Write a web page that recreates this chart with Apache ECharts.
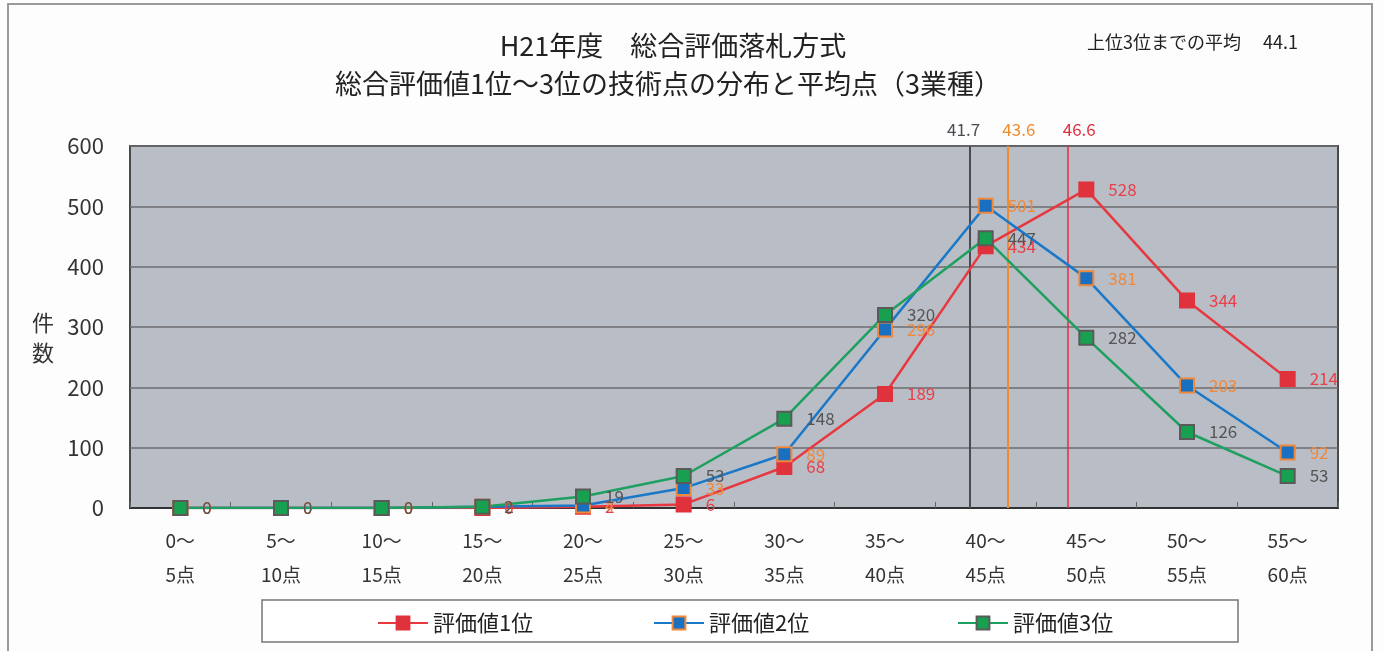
<!DOCTYPE html>
<html>
<head>
<meta charset="utf-8">
<script src="https://cdn.jsdelivr.net/npm/echarts@6/dist/echarts.min.js"></script>
<style>
  html, body { margin: 0; padding: 0; background: #fdfdfd; }
  #chart { width: 1385px; height: 651px; }
</style>
</head>
<body>
<div id="chart"></div>
<script>
// Score bands (x axis categories)
const categories = ['0～\n5点', '5～\n10点', '10～\n15点', '15～\n20点', '20～\n25点', '25～\n30点',
                    '30～\n35点', '35～\n40点', '40～\n45点', '45～\n50点', '50～\n55点', '55～\n60点'];

// Counts per band for the 1st, 2nd and 3rd ranked bidders
const rank1 = [0, 0, 0, 0, 2, 6, 68, 189, 434, 528, 344, 214];
const rank2 = [0, 0, 0, 2, 4, 33, 89, 296, 501, 381, 203, 92];
const rank3 = [0, 0, 0, 2, 19, 53, 148, 320, 447, 282, 126, 53];

// Average technical scores (vertical reference lines)
const avgRank3 = 41.7;
const avgRank2 = 43.6;
const avgRank1 = 46.6;
const avgTop3 = 44.1;

const seriesNames = ['評価値1位', '評価値2位', '評価値3位'];

const FONT = '"Noto Sans CJK JP", "Noto Sans", sans-serif';

const chart = echarts.init(document.getElementById('chart'));

function lineSeries(name, data, lineColor, fill, border, labelColor) {
  return {
    name: name,
    type: 'line',
    data: data,
    symbol: 'rect',
    symbolSize: 14,
    z: 5,
    lineStyle: { color: lineColor, width: 2.5 },
    itemStyle: { color: fill, borderColor: border, borderWidth: 2 },
    label: {
      show: true,
      position: 'right',
      distance: 14,
      color: labelColor,
      fontSize: 17,
      fontFamily: FONT
    },
    emphasis: { disabled: true }
  };
}

function avgLine(value, color, width, dx) {
  return {
    xAxis: value,
    lineStyle: { color: color, width: width, type: 'solid' },
    label: {
      show: true,
      position: 'end',
      formatter: String(value),
      color: color,
      fontSize: 17,
      fontFamily: FONT,
      distance: 8,
      offset: [dx, 0]
    }
  };
}

const option = {
  animation: false,
  backgroundColor: '#fdfdfd',
  textStyle: { fontFamily: FONT },
  title: [
    {
      text: 'H21年度　総合評価落札方式',
      left: 668, top: 27, textAlign: 'center',
      textStyle: { fontSize: 27, fontWeight: 'normal', color: '#222', fontFamily: FONT }
    },
    {
      text: '総合評価値1位～3位の技術点の分布と平均点（3業種）',
      left: 663, top: 65, textAlign: 'center',
      textStyle: { fontSize: 27, fontWeight: 'normal', color: '#222', fontFamily: FONT }
    },
    {
      text: '上位3位までの平均　 ' + avgTop3,
      left: 1082, top: 28,
      textStyle: { fontSize: 18, fontWeight: 'normal', color: '#222', fontFamily: FONT }
    },
    {
      text: '件\n数',
      left: 27, top: 303,
      textStyle: { fontSize: 22, fontWeight: 'normal', color: '#333', lineHeight: 30, fontFamily: FONT }
    }
  ],
  legend: [
    { data: [seriesNames[0]], left: 372, top: 607 },
    { data: [seriesNames[1]], left: 648, top: 607 },
    { data: [seriesNames[2]], left: 952, top: 607 }
  ].map(l => Object.assign(l, {
    itemWidth: 50, itemHeight: 16,
    textStyle: { fontSize: 22, color: '#222', fontFamily: FONT },
    selectedMode: false
  })),
  grid: {
    left: 130, right: 47, top: 146, bottom: 143,
    show: true,
    backgroundColor: '#b9bdc6',
    borderColor: '#4a4a4a',
    borderWidth: 2
  },
  xAxis: [
    {
      type: 'category',
      data: categories,
      boundaryGap: true,
      axisLine: { show: true, lineStyle: { color: '#333', width: 2 } },
      axisTick: { show: true, inside: true, length: 6, lineStyle: { color: '#666' } },
      axisLabel: { fontSize: 19, color: '#333', lineHeight: 34, margin: 16, fontFamily: FONT }
    },
    {
      type: 'value',
      min: 0, max: 60,
      show: false
    }
  ],
  yAxis: {
    type: 'value',
    min: 0, max: 600, interval: 100,
    axisLine: { show: false },
    axisTick: { show: false },
    axisLabel: { fontSize: 22, color: '#333', margin: 26, fontFamily: FONT },
    splitLine: { show: true, lineStyle: { color: '#6e6e72', width: 1.5 } }
  },
  series: [
    lineSeries(seriesNames[0], rank1, '#e8383f', '#e0323c', '#e0323c', '#e8404a'),
    lineSeries(seriesNames[1], rank2, '#1a78c8', '#1a70c0', '#f0883a', '#f0883a'),
    lineSeries(seriesNames[2], rank3, '#1ea060', '#17a050', '#5a5a5a', '#555555'),
    {
      type: 'line',
      xAxisIndex: 1,
      data: [],
      silent: true,
      z: 3,
      markLine: {
        symbol: 'none',
        silent: true,
        data: [
          avgLine(avgRank3, '#4e4a52', 2, -6),
          avgLine(avgRank2, '#f08c30', 2, 11),
          avgLine(avgRank1, '#e03040', 1.5, 11)
        ]
      }
    }
  ],
  graphic: [
    {
      type: 'rect',
      z: -10,
      shape: { x: 8, y: 4, width: 1364, height: 660 },
      style: { fill: 'none', stroke: '#9a9a9a', lineWidth: 2 }
    },
    {
      type: 'rect',
      z: -10,
      shape: { x: 262, y: 600, width: 976, height: 42 },
      style: { fill: '#ffffff', stroke: '#777777', lineWidth: 1.5 }
    }
  ]
};

chart.setOption(option);
</script>
</body>
</html>
